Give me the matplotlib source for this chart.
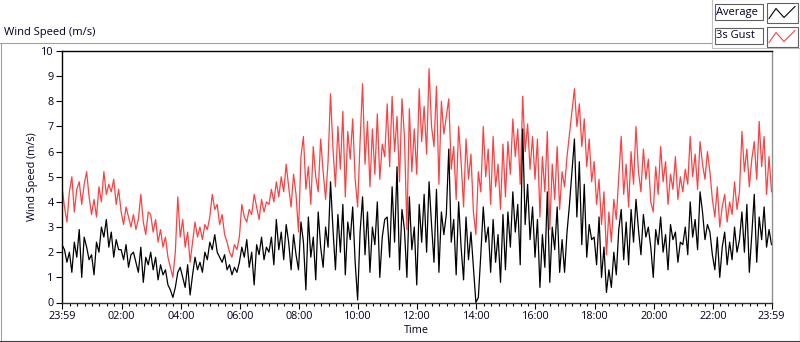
import matplotlib
matplotlib.use("Agg")
import matplotlib.pyplot as plt
from matplotlib.patches import Rectangle
from matplotlib.lines import Line2D
import numpy as np

plt.rcParams['font.family'] = ['Open Sans', 'DejaVu Sans']

# 5-minute samples, hour by hour, starting 23:59
gust_hours = [
    [4.6, 3.8, 3.2, 4.4, 5.0, 3.6, 4.5, 4.8, 3.9, 4.7, 5.2, 4.2],
    [3.5, 4.1, 3.4, 4.6, 4.0, 5.2, 4.3, 4.7, 4.4, 4.9, 3.9, 4.5],
    [3.6, 3.1, 3.8, 3.4, 3.0, 3.5, 2.9, 3.3, 4.3, 3.2, 2.7, 3.6],
    [3.5, 2.8, 3.3, 2.4, 2.9, 2.2, 2.6, 1.8, 1.4, 1.0, 2.0, 4.2],
    [2.6, 3.3, 2.2, 2.8, 1.6, 2.4, 3.2, 2.6, 3.0, 2.5, 3.1, 2.9],
    [3.4, 4.3, 3.7, 3.9, 3.1, 3.5, 2.7, 2.4, 2.0, 1.8, 2.3, 2.1],
    [2.6, 3.9, 3.4, 3.2, 3.7, 3.5, 4.3, 3.8, 3.3, 4.1, 3.6, 4.0],
    [3.9, 4.5, 4.0, 4.8, 4.2, 5.0, 4.4, 5.5, 4.6, 3.8, 5.1, 4.3],
    [2.8, 5.8, 6.6, 4.5, 5.4, 3.9, 6.2, 5.0, 4.4, 6.5, 5.2, 4.1],
    [5.6, 8.3, 6.1, 4.6, 7.0, 5.3, 7.6, 4.2, 6.8, 5.7, 7.3, 4.9],
    [3.8, 6.4, 8.7, 5.5, 7.2, 4.6, 6.9, 5.1, 7.5, 4.9, 6.3, 5.8],
    [7.9, 5.4, 8.2, 6.0, 7.4, 4.8, 8.1, 6.6, 2.9, 7.7, 5.2, 6.9],
    [5.1, 8.5, 6.4, 7.8, 5.9, 9.3, 7.0, 6.2, 8.6, 4.7, 8.0, 6.7],
    [7.4, 8.1, 5.3, 6.2, 4.1, 7.0, 5.6, 3.8, 6.5, 4.9, 5.9, 3.6],
    [2.7, 5.2, 4.4, 7.0, 5.0, 6.1, 3.9, 6.6, 4.6, 5.5, 3.7, 6.3],
    [4.2, 6.4, 5.1, 7.3, 5.8, 6.9, 4.7, 8.2, 6.0, 7.1, 5.3, 6.6],
    [4.9, 6.5, 3.4, 5.8, 4.4, 6.8, 2.9, 5.5, 4.1, 6.2, 3.7, 5.2],
    [4.6, 5.8, 6.7, 7.6, 8.5, 7.0, 7.9, 6.2, 7.3, 5.4, 6.5, 4.8],
    [5.6, 3.9, 4.9, 3.1, 4.4, 1.9, 3.6, 2.4, 4.1, 3.3, 5.0, 6.6],
    [4.3, 5.5, 3.8, 6.0, 4.7, 7.0, 5.2, 4.4, 6.1, 4.9, 5.7, 4.0],
    [3.6, 5.4, 4.3, 6.2, 4.8, 5.6, 3.9, 5.1, 4.5, 5.8, 4.1, 5.0],
    [4.4, 5.3, 4.7, 6.6, 5.0, 5.9, 4.5, 6.4, 5.5, 4.9, 6.0, 5.2],
    [4.1, 3.4, 4.6, 3.0, 3.8, 4.3, 3.2, 4.0, 3.5, 4.8, 3.7, 4.4],
    [6.8, 5.2, 6.1, 4.6, 5.7, 6.4, 4.9, 7.2, 5.4, 6.6, 4.3, 5.8],
]
avg_hours = [
    [2.3, 2.1, 1.6, 2.0, 1.2, 2.4, 1.8, 2.9, 1.0, 2.6, 2.2, 1.7],
    [1.9, 1.1, 2.4, 2.0, 3.0, 2.6, 3.3, 2.2, 2.8, 1.8, 2.5, 2.1],
    [2.1, 1.7, 2.3, 1.4, 1.9, 2.0, 1.6, 1.2, 2.2, 0.8, 1.8, 1.5],
    [2.0, 1.3, 1.8, 0.9, 1.5, 1.1, 1.3, 0.7, 0.5, 0.2, 0.6, 1.2],
    [1.4, 1.0, 0.6, 1.5, 0.3, 1.1, 1.8, 1.3, 1.6, 1.2, 2.0, 1.7],
    [2.4, 2.1, 2.7, 2.0, 1.8, 1.6, 1.9, 1.3, 1.5, 1.1, 1.4, 1.2],
    [1.6, 2.2, 1.8, 2.5, 1.4, 2.0, 0.7, 2.3, 1.9, 2.6, 1.7, 2.2],
    [2.0, 2.6, 1.5, 3.3, 2.1, 2.8, 1.7, 3.1, 2.4, 1.3, 2.7, 1.9],
    [1.3, 3.2, 2.4, 0.5, 3.4, 1.8, 2.6, 0.9, 3.6, 2.2, 1.4, 3.0],
    [2.2, 4.8, 2.9, 1.3, 3.5, 2.0, 3.9, 1.1, 3.2, 2.5, 3.8, 1.6],
    [0.1, 2.8, 4.2, 1.9, 3.6, 1.2, 3.0, 2.3, 4.0, 1.0, 2.6, 3.3],
    [3.4, 1.8, 4.6, 2.4, 5.4, 1.3, 3.7, 2.9, 1.0, 4.2, 2.1, 3.0],
    [0.7, 3.9, 2.4, 4.3, 2.0, 4.8, 3.1, 1.6, 4.5, 1.2, 3.6, 2.7],
    [3.5, 6.1, 2.4, 3.3, 1.1, 4.0, 2.2, 0.9, 3.4, 1.7, 2.8, 1.4],
    [0.0, 0.2, 1.9, 3.8, 2.4, 3.0, 1.2, 3.3, 1.6, 2.7, 0.8, 3.5],
    [1.3, 3.6, 2.2, 4.4, 2.8, 3.9, 1.5, 6.9, 3.1, 4.7, 2.5, 3.8],
    [1.8, 3.3, 0.6, 2.7, 1.4, 4.4, 0.8, 3.0, 2.1, 3.8, 1.2, 2.5],
    [1.2, 2.8, 3.9, 5.2, 6.5, 3.4, 5.6, 2.3, 4.7, 1.8, 3.1, 2.5],
    [2.6, 1.5, 3.4, 1.0, 2.2, 0.4, 1.3, 0.6, 2.0, 1.1, 2.9, 3.7],
    [1.7, 3.2, 1.5, 3.7, 2.4, 4.1, 2.9, 1.9, 3.5, 2.6, 3.0, 2.2],
    [1.0, 2.9, 2.3, 3.4, 2.0, 2.7, 1.3, 3.1, 2.5, 2.8, 1.6, 2.4],
    [2.3, 3.0, 1.9, 4.0, 2.6, 3.3, 2.1, 4.4, 3.6, 2.5, 3.1, 2.8],
    [1.9, 1.3, 2.6, 1.0, 2.2, 2.8, 1.5, 2.4, 1.7, 3.0, 2.0, 2.5],
    [3.6, 2.0, 3.9, 1.2, 2.7, 4.3, 1.6, 3.4, 2.5, 3.8, 2.2, 2.9],
]
gust_end = 4.4
avg_end = 2.3

tick_labels = ["23:59", "02:00", "04:00", "06:00", "08:00", "10:00", "12:00",
               "14:00", "16:00", "18:00", "20:00", "22:00", "23:59"]
tick_minutes = [0, 121, 241, 361, 481, 601, 721, 841, 961, 1081, 1201, 1321, 1440]

gust = [v for h in gust_hours for v in h] + [gust_end]
avg = [v for h in avg_hours for v in h] + [avg_end]
minutes = np.arange(len(gust)) * 5

W, H = 800, 342
fig = plt.figure(figsize=(W / 100, H / 100), dpi=100)
fig.patch.set_facecolor("white")


def fx(x):
    return x / W


def fy(y):
    return 1 - y / H


def box(x, y, w, h, fc, ec, lw=1.0):
    fig.add_artist(Rectangle((fx(x), fy(y + h)), w / W, h / H, transform=fig.transFigure,
                             facecolor=fc, edgecolor=ec, linewidth=lw))


def hline(x0, x1, y, c):
    fig.add_artist(Line2D([fx(x0), fx(x1)], [fy(y), fy(y)], transform=fig.transFigure,
                          color=c, linewidth=0.8))


def vline(x, y0, y1, c):
    fig.add_artist(Line2D([fx(x), fx(x)], [fy(y0), fy(y1)], transform=fig.transFigure,
                          color=c, linewidth=0.8))


# outer panel frame
hline(0, 711, 42.5, "#a0a0a0")
vline(0.5, 42.5, 341, "#a0a0a0")
hline(0, 800, 340.5, "#404040")
vline(799.5, 48, 341, "#404040")

# legend panel
box(711.5, -1, 89, 49, "white", "#c0c0c0", 0.8)
box(714.5, 3.5, 48, 16, "white", "#606060", 0.8)
box(766.5, 3.5, 31, 19, "white", "#606060", 0.8)
box(714.5, 27.5, 48, 16, "white", "#606060", 0.8)
box(766.5, 27.5, 31, 19, "white", "#606060", 0.8)
fig.text(fx(716), fy(12), "Average", fontsize=8, va="center", ha="left", color="#000020")
fig.text(fx(716), fy(36), "3s Gust", fontsize=8, va="center", ha="left", color="#000020")
for y0, col in [(3.5, "black"), (27.5, "#ff4040")]:
    xs = [769, 776, 784, 795]
    ys = [y0 + 15, y0 + 5, y0 + 14, y0 + 3]
    fig.add_artist(Line2D([fx(v) for v in xs], [fy(v) for v in ys], transform=fig.transFigure,
                          color=col, linewidth=0.8))

fig.text(fx(4), fy(32), "Wind Speed (m/s)", fontsize=8, va="center", ha="left", color="#000020")

ax = fig.add_axes([fx(62), fy(302.5), (771.5 - 62) / W, (302.5 - 51) / H])
ax.set_facecolor("white")
ax.plot(minutes, gust, color="#ff4040", linewidth=0.9)
ax.plot(minutes, avg, color="black", linewidth=0.9)

ax.set_xlim(0, 1440)
ax.set_ylim(0, 10)
ax.set_yticks(range(0, 11))
ax.set_xticks(tick_minutes)
ax.set_xticklabels(tick_labels)
ax.set_xticks([1 + 15 * k for k in range(96) if (1 + 15 * k) % 120 != 1 and 1 + 15 * k > 0], minor=True)
ax.tick_params(axis="both", which="major", direction="out", length=4, width=0.8,
               labelsize=7.8, pad=2, colors="black", labelcolor="#000020")
ax.tick_params(axis="x", which="minor", direction="out", length=2.2, width=0.8, colors="black")
ax.set_ylabel("Wind Speed (m/s)", fontsize=7.8, color="#000020", labelpad=2)
ax.set_xlabel("Time", fontsize=7.8, color="#000020", labelpad=2)

ax.spines["top"].set_color("black")
ax.spines["left"].set_color("black")
ax.spines["right"].set_color("#909090")
ax.spines["bottom"].set_color("#303030")
for s in ax.spines.values():
    s.set_linewidth(1.0)

fig.savefig("out.png", dpi=100)
